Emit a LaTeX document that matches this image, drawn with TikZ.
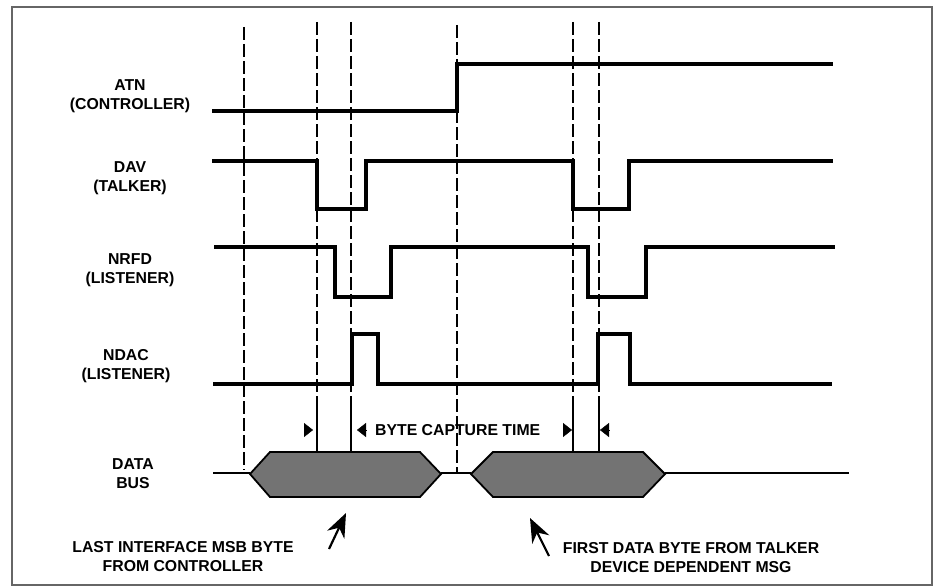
\documentclass[tikz,border=0pt]{standalone}
\usepackage{fontspec}
\setmainfont{Liberation Sans}
\usetikzlibrary{arrows.meta}

\begin{document}
\begin{tikzpicture}[x=1pt, y=-1pt,
		signal/.style={line width=3.2pt, line join=miter},
		guide/.style={line width=2.4pt, dash pattern=on 13pt off 4pt},
		strobe/.style={line width=2.4pt},
		busline/.style={line width=2.4pt},
		byte/.style={fill=black!55, draw=black, line width=1.8pt, line join=miter},
		tag/.style={font=\bfseries\fontsize{15.8}{19}\selectfont, align=center, inner sep=0pt},
		captip/.style={-{Triangle[length=9pt, width=14pt]}},
		pointer/.style={line width=2.2pt, -{Stealth[length=24pt, width=19pt]}}]
			\useasboundingbox (0,0) rectangle (939,586);
			\draw[black!60, line width=1.4pt] (12,7) rectangle (932,585);

			\foreach \x/\ya/\yb in {244/27/470, 457/25/473}
				\draw[guide] (\x,\ya) -- (\x,\yb);
			\foreach \x in {317,351,573,599} {
				\draw[guide] (\x,22) -- (\x,397);
				\draw[strobe] (\x,397) -- (\x,452);
			}

			\draw[signal] (212,111) -- (457,111) -- (457,64) -- (833,64);
			\draw[signal] (212,161) -- (317,161) -- (317,209) -- (366,209) -- (366,161)
				-- (573,161) -- (573,209) -- (629,209) -- (629,161) -- (833,161);
			\draw[signal] (214,247) -- (335,247) -- (335,297) -- (391,297) -- (391,247)
				-- (588,247) -- (588,297) -- (646,297) -- (646,247) -- (835,247);
			\draw[signal] (213,384) -- (352,384) -- (352,334) -- (378,334) -- (378,384)
				-- (598,384) -- (598,334) -- (630,334) -- (630,384) -- (832,384);

			\draw[busline] (213,473) -- (250,473);
			\draw[busline] (441,473) -- (471,473);
			\draw[busline] (665,473) -- (849,473);
			\draw[byte] (250,474) -- (270,452) -- (420,452) -- (441,474) -- (420,497) -- (270,497) -- cycle;
			\draw[byte] (471,474) -- (493,452) -- (643,452) -- (665,474) -- (643,497) -- (493,497) -- cycle;

			\node[tag] (ATN) at (130,96) {ATN\\(CONTROLLER)};
			\node[tag] (DAV) at (130,178) {DAV\\(TALKER)};
			\node[tag] (NRFD) at (130,270) {NRFD\\(LISTENER)};
			\node[tag] (NDAC) at (126,366) {NDAC\\(LISTENER)};
			\node[tag] (DATA) at (133,474) {DATA\\BUS};

			\draw[captip] (304,430) -- (313,430);
			\draw[captip] (366,430) -- (357,430);
			\draw[captip] (563,430) -- (572,430);
			\draw[captip] (609,430) -- (600,430);
			\node[tag, anchor=west] (BCT) at (375,430) {BYTE CAPTURE TIME};

			\node[tag] (LAST) at (183,557) {LAST INTERFACE MSB BYTE\\FROM CONTROLLER};
			\node[tag] (FIRST) at (691,558) {FIRST DATA BYTE FROM TALKER\\DEVICE DEPENDENT MSG};
			\coordinate (T1) at (329,549);
			\coordinate (H1) at (346,513);
			\coordinate (T2) at (549,556);
			\coordinate (H2) at (530,518);
			\draw[pointer] (T1) -- (H1);
			\draw[pointer] (T2) -- (H2);
		\end{tikzpicture}
\end{document}
